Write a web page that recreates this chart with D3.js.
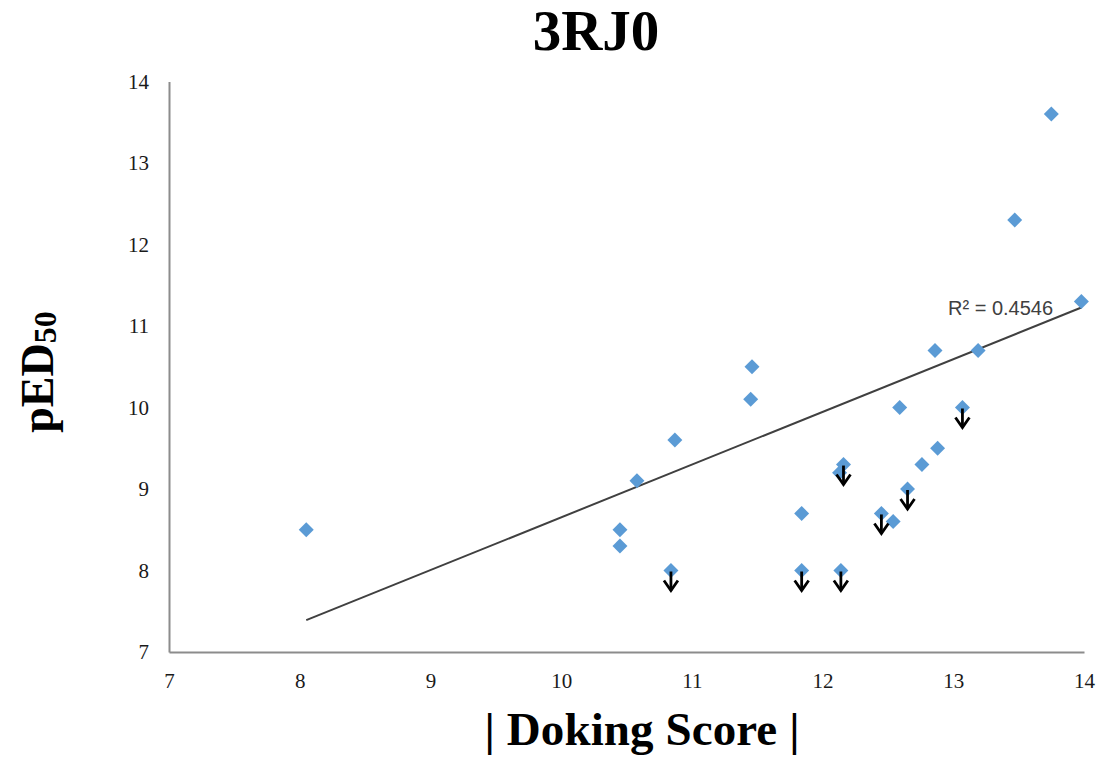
<!DOCTYPE html>
<html>
<head>
<meta charset="utf-8">
<script src="https://cdn.jsdelivr.net/npm/d3@7"></script>
<style>
  body { margin: 0; background: #fff; }
  .tick text { font-family: "Liberation Serif", "Times New Roman", serif; font-size: 21px; fill: #1a1a1a; }
  .domain { stroke: #8c8c8c; stroke-width: 2; }
</style>
</head>
<body>
<svg id="chart" width="1104" height="757"></svg>
<script>
// |docking score| vs pED50
var doking = [8.05, 10.45, 10.45, 10.58, 10.87, 10.84, 11.46, 11.45, 11.84, 11.84,
              12.14, 12.16, 12.13, 12.45, 12.54, 12.65, 12.59, 12.76, 12.88, 12.86,
              13.19, 13.07, 13.47, 13.75, 13.98];
var ped50 = [8.5, 8.5, 8.3, 9.1, 9.6, 8.0, 10.5, 10.1, 8.7, 8.0,
             8.0, 9.3, 9.2, 8.7, 8.6, 9.0, 10.0, 9.3, 9.5, 10.7,
             10.7, 10.0, 12.3, 13.6, 11.3];
// 1 = value is an upper limit (drawn with a down arrow)
var upperLimit = [0, 0, 0, 0, 0, 1, 0, 0, 0, 1,
                  1, 1, 0, 1, 0, 1, 0, 0, 0, 0,
                  0, 1, 0, 0, 0];
var xTicks = [7, 8, 9, 10, 11, 12, 13, 14];
var yTicks = [7, 8, 9, 10, 11, 12, 13, 14];
var trendSlope = 0.647, trendIntercept = 2.182;
var rSquared = "0.4546";

var svg = d3.select('#chart');
var margin = {left: 169, right: 20, top: 81.5, bottom: 105};
var W = 1104, H = 757;

var x = d3.scaleLinear().domain([7, 14]).range([margin.left, W - margin.right]);
var y = d3.scaleLinear().domain([7, 14]).range([H - margin.bottom, margin.top]);

svg.append('g')
  .attr('transform', 'translate(0,' + y(7) + ')')
  .call(d3.axisBottom(x).tickValues(xTicks).tickSize(0).tickPadding(21).tickFormat(d3.format('d')));

svg.append('g')
  .attr('transform', 'translate(' + x(7) + ',0)')
  .call(d3.axisLeft(y).tickValues(yTicks).tickSize(0).tickPadding(20).tickFormat(d3.format('d')));

// trend line over data range
var xr = d3.extent(doking);
svg.append('line')
  .attr('x1', x(xr[0])).attr('y1', y(trendSlope * xr[0] + trendIntercept))
  .attr('x2', x(xr[1])).attr('y2', y(trendSlope * xr[1] + trendIntercept))
  .attr('stroke', '#404040').attr('stroke-width', 2);

var pts = doking.map(function(d, i) { return {x: d, y: ped50[i], up: upperLimit[i]}; });

var diamond = d3.symbol().type(d3.symbolSquare).size(112);
svg.append('g').selectAll('path')
  .data(pts).enter().append('path')
  .attr('d', diamond)
  .attr('transform', function(d) { return 'translate(' + x(d.x) + ',' + y(d.y) + ') rotate(45)'; })
  .attr('fill', '#5b9bd5');

var arrows = svg.append('g').selectAll('g')
  .data(pts.filter(function(d) { return d.up; })).enter().append('g')
  .attr('transform', function(d) { return 'translate(' + x(d.x) + ',' + y(d.y) + ')'; })
  .attr('stroke', '#000').attr('stroke-width', 2.8).attr('fill', 'none');
arrows.append('line').attr('x1', 0).attr('y1', 1).attr('x2', 0).attr('y2', 20);
arrows.append('path').attr('d', 'M-7,10 L0,20 L7,10');

svg.append('text')
  .attr('x', 948).attr('y', 315)
  .attr('font-family', '"Liberation Sans", Arial, sans-serif')
  .attr('font-size', 20).attr('fill', '#404040')
  .text('R\u00b2 = ' + rSquared);

svg.append('text')
  .attr('x', 596).attr('y', 50)
  .attr('text-anchor', 'middle')
  .attr('font-family', '"Liberation Serif", "Times New Roman", serif')
  .attr('font-weight', 'bold').attr('font-size', 57)
  .text('3RJ0');

svg.append('text')
  .attr('x', 642).attr('y', 745)
  .attr('text-anchor', 'middle')
  .attr('font-family', '"Liberation Serif", "Times New Roman", serif')
  .attr('font-weight', 'bold').attr('font-size', 47)
  .attr('textLength', 315)
  .text('| Doking Score |');

var yl = svg.append('text')
  .attr('transform', 'translate(53,372) rotate(-90)')
  .attr('text-anchor', 'middle')
  .attr('font-family', '"Liberation Serif", "Times New Roman", serif')
  .attr('font-weight', 'bold').attr('font-size', 46);
yl.append('tspan').text('pED');
yl.append('tspan').attr('font-size', 32).attr('dy', 3).text('50');
</script>
</body>
</html>
